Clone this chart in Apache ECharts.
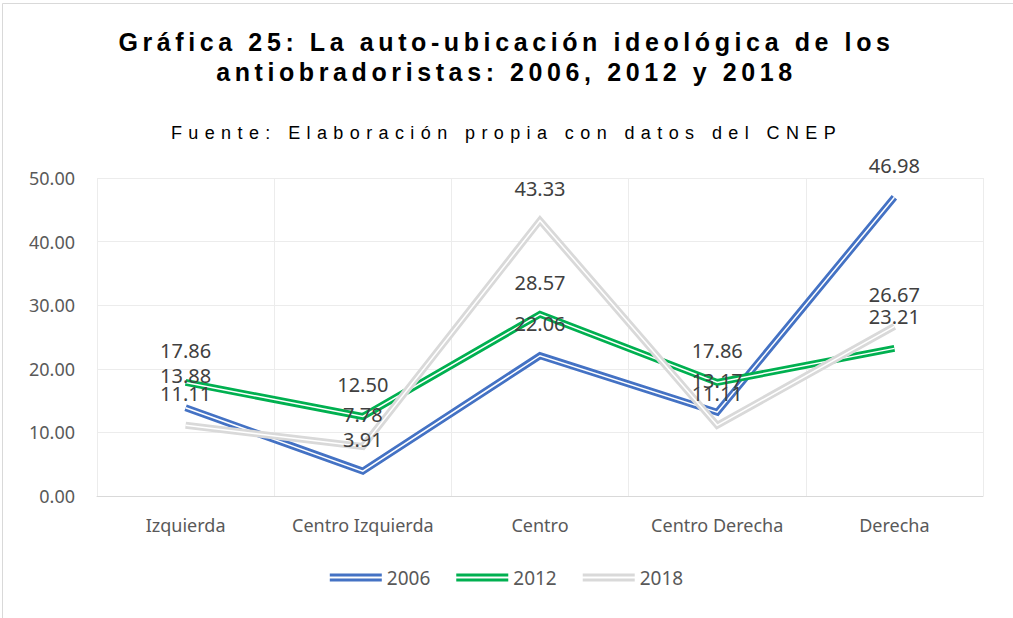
<!DOCTYPE html>
<html>
<head>
<meta charset="utf-8">
<title>Gráfica 25</title>
<script src="https://cdn.jsdelivr.net/npm/echarts@6/dist/echarts.min.js"></script>
<style>
  html, body { margin: 0; padding: 0; background: #fff; }
  #chart { width: 1013px; height: 618px; }
  /* espaciado de letras de los titulos (solo textos en Liberation Sans) */
  #chart text[style*="25px"] { letter-spacing: 4.6px; }
  #chart text[style*="18px"][style*="Liberation"] { letter-spacing: 6.4px; }
</style>
</head>
<body>
<div id="chart"></div>
<script>
// categorías del eje x
const categorias = ['Izquierda', 'Centro Izquierda', 'Centro', 'Centro Derecha', 'Derecha'];
// valores por año
const datos2006 = [13.88, 3.91, 22.06, 13.17, 46.98];
const datos2012 = [17.86, 12.50, 28.57, 17.86, 23.21];
const datos2018 = [11.11, 7.78, 43.33, 11.11, 26.67];
const anios = ['2006', '2012', '2018'];
// marcas del eje y
const ticksY = [0, 10, 20, 30, 40, 50];

const colores = ['#4472C4', '#00B050', '#D9D9D9'];
const series = [datos2006, datos2012, datos2018];

// linea doble: trazo de color grueso y una linea blanca fina encima
const iconoDoble = 'path://M0,0H52V3H0Z M0,5H52V8H0Z';
let listaSeries = [];
series.forEach(function (d, i) {
  listaSeries.push({
    name: anios[i],
    type: 'line',
    data: d,
    showSymbol: true,
    symbol: 'circle',
    symbolSize: 0,
    itemStyle: { color: colores[i] },
    lineStyle: { color: colores[i], width: 7, join: 'miter' },
    label: {
      show: true,
      position: 'top',
      distance: 22,
      formatter: function (p) { return p.value.toFixed(2); },
      color: '#404040',
      fontSize: 20,
      fontFamily: 'Noto Sans'
    }
  });
  listaSeries.push({
    name: anios[i] + '_interior',
    type: 'line',
    data: d,
    showSymbol: false,
    symbol: 'none',
    silent: true,
    lineStyle: { color: '#ffffff', width: 1.5, join: 'miter' }
  });
});

var myChart = echarts.init(document.getElementById('chart'), null, { renderer: 'svg' });
myChart.setOption({
  animation: false,
  graphic: [{
    type: 'rect',
    shape: { x: 2.5, y: 3.5, width: 1020, height: 630 },
    style: { fill: 'none', stroke: '#d9d9d9', lineWidth: 1 }
  }],
  title: [
    {
      text: 'Gráfica 25: La auto-ubicación ideológica de los\nantiobradoristas: 2006, 2012 y 2018',
      left: 'center',
      top: 22,
      textStyle: {
        fontFamily: 'Liberation Sans',
        fontWeight: 'bold',
        fontSize: 25,
        lineHeight: 30,
        color: '#000000',
        align: 'center'
      }
    },
    {
      text: 'Fuente: Elaboración propia con datos del CNEP',
      left: 'center',
      top: 119,
      textStyle: {
        fontFamily: 'Liberation Sans',
        fontWeight: 'normal',
        fontSize: 18,
        color: '#000000',
        align: 'center'
      }
    }
  ],
  legend: {
    data: anios,
    bottom: 26,
    left: 'center',
    icon: iconoDoble,
    itemWidth: 52,
    itemHeight: 8,
    itemGap: 26,
    textStyle: { fontFamily: 'Noto Sans', fontSize: 19, color: '#595959' }
  },
  grid: {
    left: 97,
    right: 30,
    top: 178,
    bottom: 122,
    containLabel: false
  },
  xAxis: {
    type: 'category',
    data: categorias,
    boundaryGap: true,
    axisLine: { show: true, lineStyle: { color: '#d9d9d9' } },
    axisTick: { show: false },
    splitLine: { show: true, interval: 0, lineStyle: { color: '#ececec', width: 1 } },
    axisLabel: { interval: 0, fontFamily: 'Noto Sans', fontSize: 18, color: '#595959', margin: 20 }
  },
  yAxis: {
    type: 'value',
    min: ticksY[0],
    max: ticksY[ticksY.length - 1],
    interval: 10,
    axisLine: { show: false },
    axisTick: { show: false },
    splitLine: { lineStyle: { color: '#ececec', width: 1 } },
    axisLabel: {
      fontFamily: 'Noto Sans',
      fontSize: 18,
      color: '#595959',
      margin: 22,
      formatter: function (v) { return v.toFixed(2); }
    }
  },
  series: listaSeries
});
</script>
</body>
</html>
